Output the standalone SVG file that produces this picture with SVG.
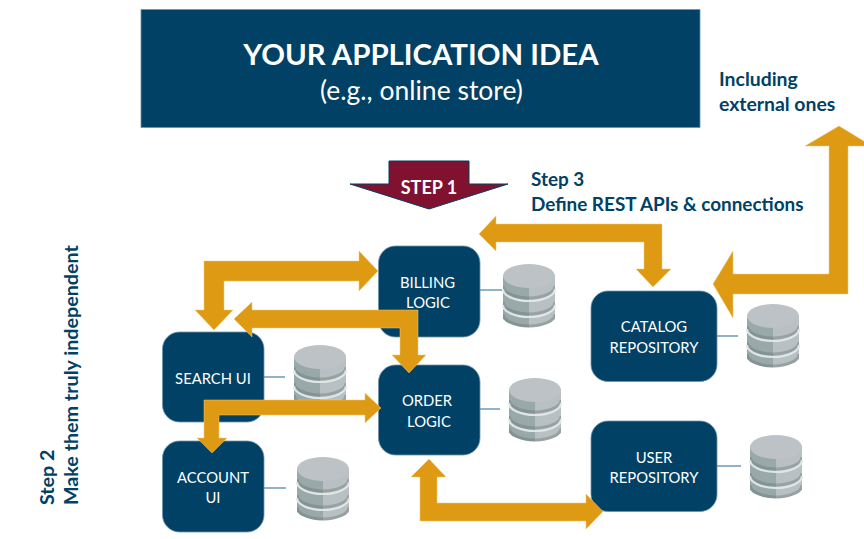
<svg xmlns="http://www.w3.org/2000/svg" width="864" height="539" viewBox="0 0 864 539">
<style>
text{font-family:Lato,"Liberation Sans",sans-serif}
.box{fill:#004165;stroke:#6f93a8;stroke-width:.8}
.lbl{fill:#fff;font-size:14.800px;text-anchor:middle}
.note{fill:#004165;font-size:18.900px;font-weight:700}
.arrow{fill:#df9a13;stroke:#efc878;stroke-width:.5}
.link{stroke:#6f9bb5;stroke-width:1.5;fill:none}
.dk{stroke:#849494;stroke-width:3;fill:none}
.wh{stroke:#dfe6e6;stroke-width:2.200;fill:none}
.dk2{stroke:#99a2a3;stroke-width:3;fill:none}
</style>
<defs>
<clipPath id="lh"><rect x="0" y="0" width="26" height="64"/></clipPath>
<clipPath id="rh"><rect x="26" y="0" width="26" height="64"/></clipPath>
<g id="cyl">
<path d="M0,12V51A26,12 0 0 0 52,51V12Z" fill="#b9c0c3"/>
<g clip-path="url(#lh)">
<path d="M0,12V51A26,12 0 0 0 52,51V12Z" fill="#99a8a8"/>
<path class="dk" d="M0,22A26,12 0 0 0 52,22M0,38A26,12 0 0 0 52,38M0,50A26,12 0 0 0 52,50"/>
</g>
<g clip-path="url(#rh)">
<path class="dk2" d="M0,22A26,12 0 0 0 52,22M0,38A26,12 0 0 0 52,38M0,50A26,12 0 0 0 52,50"/>
</g>
<path class="wh" d="M0,25A26,12 0 0 0 52,25M0,41A26,12 0 0 0 52,41"/>
<ellipse cx="26" cy="12" rx="26" ry="12" fill="#bcc2c6"/>
<path d="M26,24V12H52V13A26,12 0 0 1 26,24Z" fill="#bcc2c6"/>
</g>
</defs>
<rect width="864" height="539" fill="#fff"/>

<g id="title">
<rect x="141" y="9.500" width="559" height="118" fill="#004165" stroke="#6f93a8" stroke-width=".8"/>
<text x="421" y="65" fill="#fff" font-size="29.400" font-weight="700" text-anchor="middle">YOUR APPLICATION IDEA</text>
<text x="421.500" y="100" fill="#fff" font-size="26.500" text-anchor="middle">(e.g., online store)</text>
</g>

<g id="step1">
<path d="M389,161H469V184H508L429,209L350,184H389Z" fill="#80112f" stroke="#004165" stroke-width="1"/>
<text x="429" y="194" fill="#fff" font-size="18" font-weight="700" text-anchor="middle">STEP 1</text>
</g>

<g id="step3">
<text class="note" x="531" y="185.500">Step 3</text>
<text class="note" x="531" y="210.500">Define REST APIs &amp; connections</text>
</g>
<g id="including">
<text class="note" x="719" y="85.500" style="font-size:19.400px">Including</text>
<text class="note" x="719" y="110.500" style="font-size:19.400px">external ones</text>
</g>
<g id="step2">
<text class="note" transform="translate(54,505) rotate(-90)" style="font-size:19.700px">Step 2</text>
<text class="note" transform="translate(78,505) rotate(-90)" style="font-size:19.700px">Make them truly independent</text>
</g>

<g id="connectors-db">
<path class="link" d="M480,290H502M264,377H285M264,488H286M480,409H500M717,336H738M717,466H741"/>
</g>

<g id="db-billing"><use href="#cyl" x="503" y="264"/></g>
<g id="db-search"><use href="#cyl" x="294" y="345"/></g>
<g id="db-order"><use href="#cyl" x="509" y="378"/></g>
<g id="db-account"><use href="#cyl" x="297" y="457"/></g>
<g id="db-catalog"><use href="#cyl" x="747" y="304"/></g>
<g id="db-user"><use href="#cyl" x="750" y="435"/></g>

<g id="billing">
<rect class="box" x="378.500" y="246" width="101.500" height="91" rx="17"/>
<text class="lbl" x="427.500" y="288">BILLING</text>
<text class="lbl" x="428" y="308">LOGIC</text>
</g>
<g id="search">
<rect class="box" x="162.500" y="332" width="101.500" height="90" rx="17"/>
<text class="lbl" x="213" y="384">SEARCH UI</text>
</g>
<g id="order">
<rect class="box" x="378.500" y="365" width="101.500" height="90" rx="17"/>
<text class="lbl" x="427" y="406">ORDER</text>
<text class="lbl" x="429" y="427">LOGIC</text>
</g>
<g id="account">
<rect class="box" x="162.500" y="441" width="101.500" height="91" rx="17"/>
<text class="lbl" x="213" y="483">ACCOUNT</text>
<text class="lbl" x="213" y="503">UI</text>
</g>
<g id="catalog">
<rect class="box" x="591" y="291" width="126" height="90.500" rx="17"/>
<text class="lbl" x="654" y="332">CATALOG</text>
<text class="lbl" x="654" y="353">REPOSITORY</text>
</g>
<g id="user">
<rect class="box" x="591" y="421" width="126" height="90.500" rx="17"/>
<text class="lbl" x="654" y="463">USER</text>
<text class="lbl" x="654" y="483">REPOSITORY</text>
</g>

<g id="connectors">
<polygon class="arrow" points="204,261 359,261 359,251 378,271 359,291 359,281 224,281 224,310 233,310 214,330 195,310 204,310"/>
<polygon class="arrow" points="234,319 252,302 252,310 418,310 418,355 426,355 409,373 392,355 400,355 400,328 252,328 252,337"/>
<polygon class="arrow" points="204,400 365,400 365,393 381,408 365,423 365,415 219,415 219,438 227,438 212,453 197,438 204,438"/>
<polygon class="arrow" points="429,459 446,477 437,477 437,503 586,503 586,494 603,511.500 586,529 586,521 420,521 420,477 411,477"/>
<polygon class="arrow" points="479,234 496,216 496,224 662,224 662,269 671,269 653,287 636,269 644,269 644,242 496,242 496,251"/>
<polygon class="arrow" points="713,284 733,251 733,274 829,274 829,146 805,146 839,126 872,146 848,146 848,294 733,294 733,318"/>
</g>
</svg>
